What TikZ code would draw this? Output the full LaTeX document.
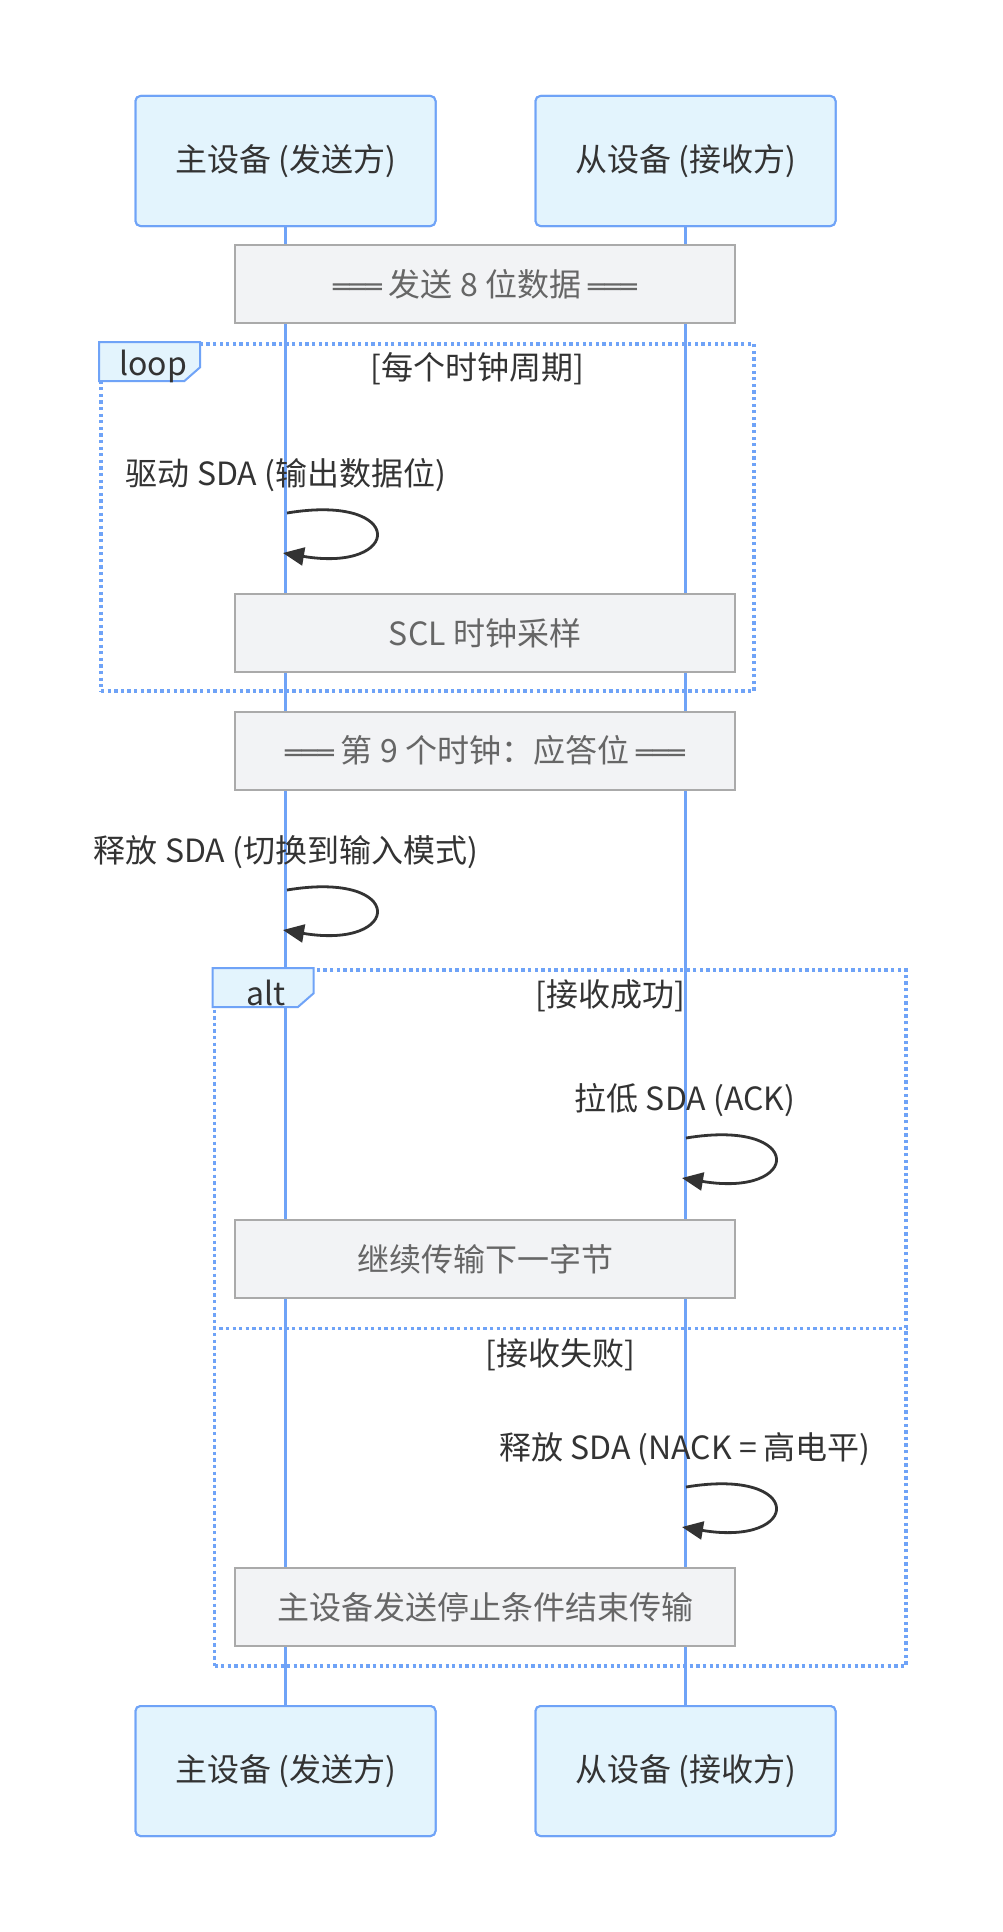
\documentclass[tikz,border=0pt]{standalone}
\usepackage{fontspec}
\setmainfont{Noto Sans CJK SC}
\newfontfamily\boxfont{DejaVu Sans}
\newcommand\mybars{{\boxfont\fontsize{27}{30}\selectfont ═══}}
\usetikzlibrary{arrows.meta}
\definecolor{actfill}{HTML}{E3F4FD}
\definecolor{actline}{HTML}{6FA3F7}
\definecolor{notefill}{HTML}{F2F3F5}
\definecolor{noteline}{HTML}{AAAAAA}
\definecolor{notetext}{HTML}{666666}
\definecolor{txt}{HTML}{333333}
\begin{document}
\begin{tikzpicture}[x=1pt,y=-1pt,
  actor/.style={draw=actline, fill=actfill, line width=2pt, rounded corners=5pt,
    minimum width=300pt, minimum height=130pt, inner sep=0pt,
    font=\fontsize{32}{38}\selectfont, text=txt},
  notebox/.style={draw=noteline, fill=notefill, line width=2pt,
    minimum width=500pt, minimum height=78pt, inner sep=0pt,
    font=\fontsize{32}{38}\selectfont, text=notetext},
  lifeline/.style={draw=actline, line width=3.5pt},
  frame/.style={draw=actline, line width=3.6pt, dash pattern=on 3.3pt off 3.3pt, inner sep=0pt},
  tabshape/.style={draw=actline, fill=actfill, line width=2pt},
  tablabel/.style={font=\fontsize{32}{38}\selectfont, text=txt, inner sep=0pt},
  msglabel/.style={font=\fontsize{32}{38}\selectfont, text=txt, inner sep=0pt},
  selfmsg/.style={draw=txt, line width=2.8pt, -{Triangle[length=21pt,width=18pt]}}
]
\useasboundingbox (0,0) rectangle (1002,1932);
\fill[white] (0,0) rectangle (1002,1932);

% actors (placed first for lifeline anchors)
\node[actor] (a1) at (285.5,161) {};
\node[actor] (a2) at (685.5,161) {};
\node[actor] (b1) at (285.5,1771) {};
\node[actor] (b2) at (685.5,1771) {};

% lifelines
\draw[lifeline] (a1.south) -- (b1.north);
\draw[lifeline] (a2.south) -- (b2.north);

% actor boxes with text on top of lifelines
\node[actor] (a1t) at (a1) {\raisebox{-3pt}{主设备 (发送方)}};
\node[actor] (a2t) at (a2) {\raisebox{-3pt}{从设备 (接收方)}};
\node[actor] (b1t) at (b1) {\raisebox{-3pt}{主设备 (发送方)}};
\node[actor] (b2t) at (b2) {\raisebox{-3pt}{从设备 (接收方)}};

% note 1
\node[notebox] (n1) at (485,284) {\raisebox{-3pt}{\mybars{} 发送 8 位数据 \mybars}};

% loop frame
\node[frame, minimum width=653pt, minimum height=347pt] (loopbox) at (427.5,517.5) {};
\draw[tabshape] (loopbox.north west) -- ++(101,0) -- ++(0,25) -- ++(-16,14) -- ++(-85,0) -- cycle;
\node[tablabel] (looplbl) at (153,366) {loop};
\node[tablabel] (loopcond) at (477.5,369) {[每个时钟周期]};

% message 1
\node[msglabel] (m1) at (286,475) {驱动 SDA (输出数据位)};
\coordinate (m1s) at (287,513);
\coordinate (m1e) at (283,553);
\draw[selfmsg] (m1s) .. controls +(120,-20) and +(120,20) .. (m1e);

% note 2
\node[notebox] (n2) at (485,633) {\raisebox{-3pt}{SCL 时钟采样}};

% note 3
\node[notebox] (n3) at (485,750.5) {\raisebox{-3pt}{\mybars{} 第 9 个时钟：应答位 \mybars}};

% message 2
\node[msglabel] (m2) at (286,852) {释放 SDA (切换到输入模式)};
\coordinate (m2s) at (287,890);
\coordinate (m2e) at (283,930);
\draw[selfmsg] (m2s) .. controls +(120,-20) and +(120,20) .. (m2e);

% alt frame
\node[frame, minimum width=691.5pt, minimum height=696pt] (altbox) at (560.25,1318) {};
\draw[tabshape] (altbox.north west) -- ++(101,0) -- ++(0,25) -- ++(-16,14) -- ++(-85,0) -- cycle;
\node[tablabel] (altlbl) at (266,993) {alt};
\node[tablabel] (altcond1) at (610,996) {[接收成功]};

% message 3
\node[msglabel] (m3) at (685,1100) {拉低 SDA (ACK)};
\coordinate (m3s) at (686,1138);
\coordinate (m3e) at (682,1178);
\draw[selfmsg] (m3s) .. controls +(120,-20) and +(120,20) .. (m3e);

% note 4
\node[notebox] (n4) at (485,1259) {\raisebox{-3pt}{继续传输下一字节}};

% divider
\coordinate (dl) at (altbox.west |- 0,1328.6);
\coordinate (dr) at (altbox.east |- 0,1328.6);
\draw[frame] (dl) -- (dr);
\node[tablabel] (altcond2) at (560,1355) {[接收失败]};

% message 4
\node[msglabel] (m4) at (685,1449) {释放 SDA (NACK = 高电平)};
\coordinate (m4s) at (686,1487);
\coordinate (m4e) at (682,1527);
\draw[selfmsg] (m4s) .. controls +(120,-20) and +(120,20) .. (m4e);

% note 5
\node[notebox] (n5) at (485,1607) {\raisebox{-3pt}{主设备发送停止条件结束传输}};
\end{tikzpicture}
\end{document}
